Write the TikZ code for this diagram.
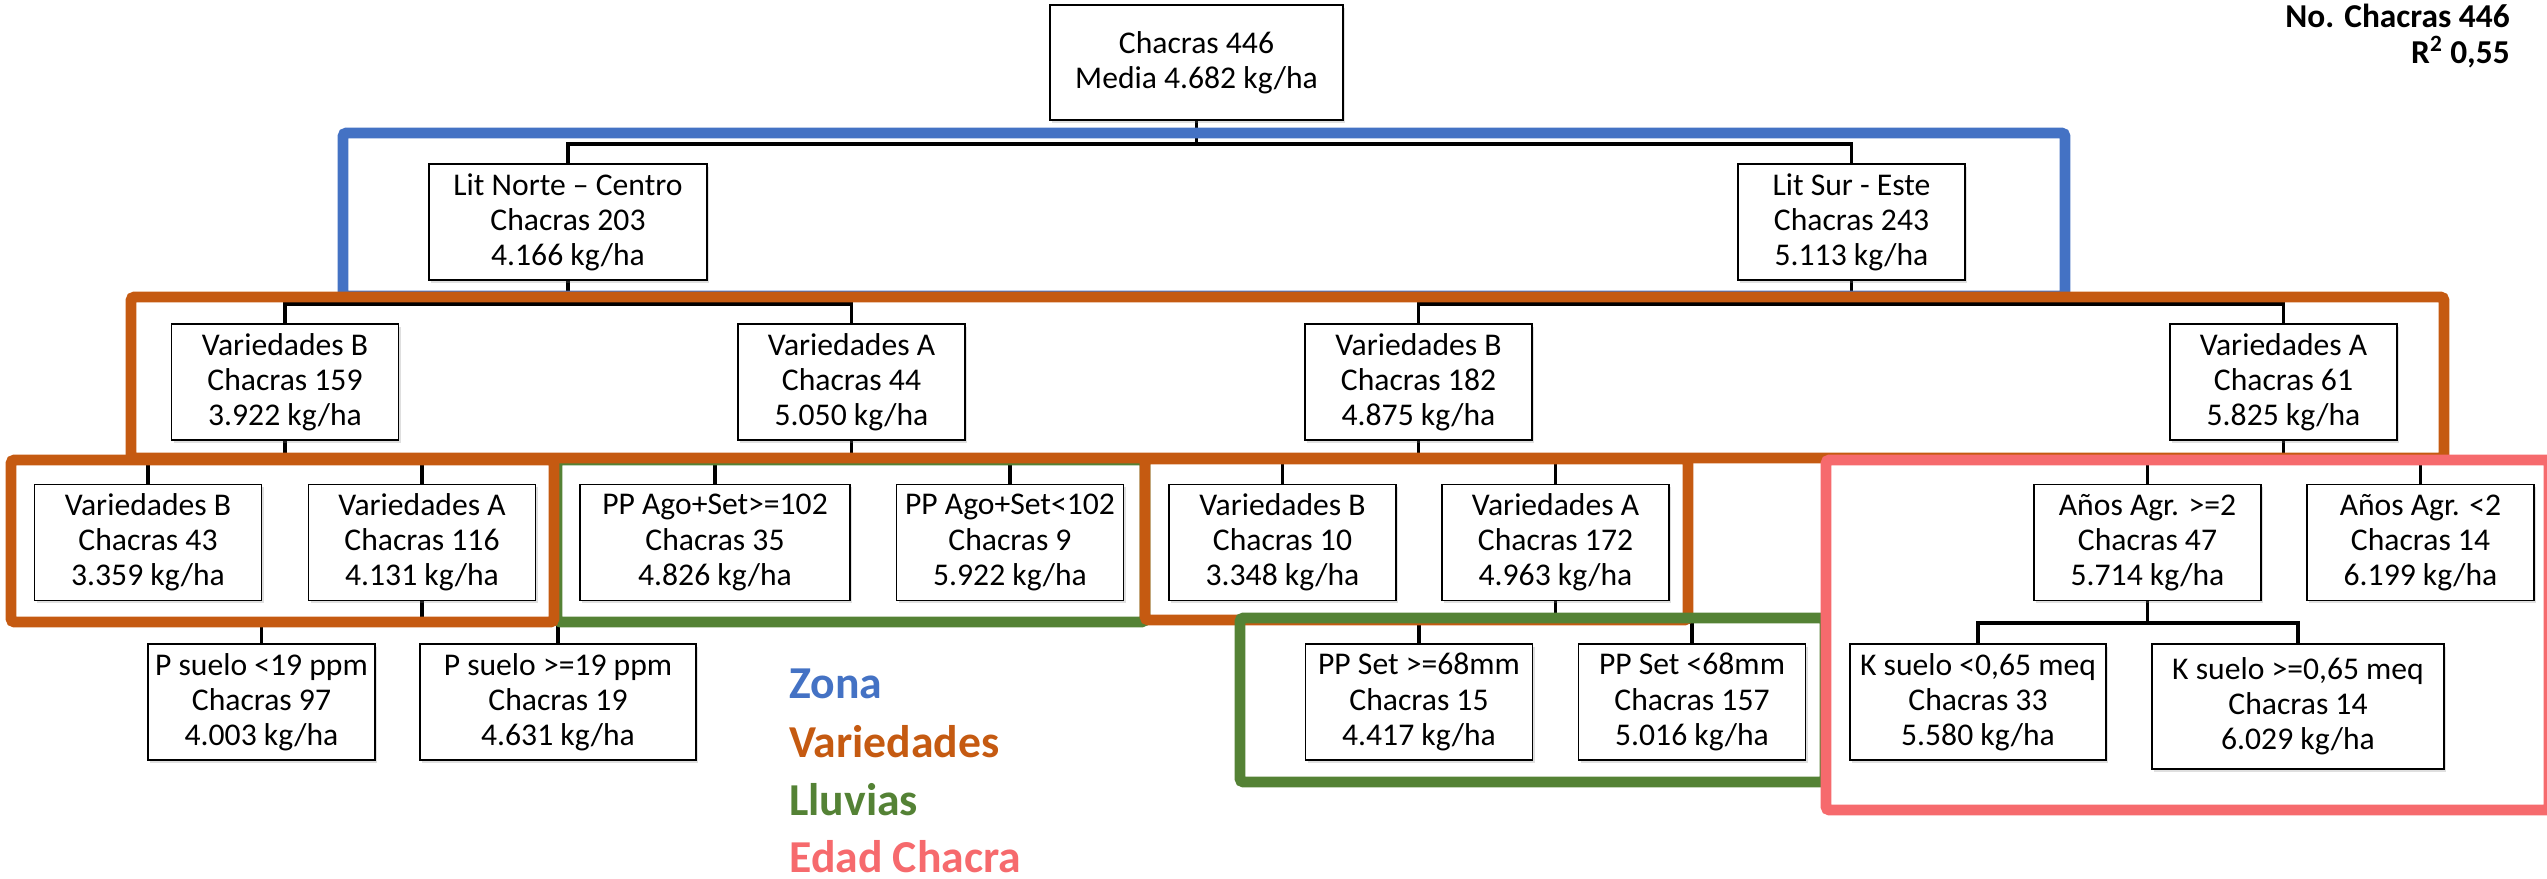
\documentclass[tikz,border=0pt]{standalone}
\usepackage{fontspec}
\setmainfont{Carlito}
\usepackage{xcolor}
\usetikzlibrary{shadows}

\definecolor{zona}{HTML}{4472C4}
\definecolor{varied}{HTML}{C55A11}
\definecolor{lluvia}{HTML}{548235}
\definecolor{edad}{RGB}{246,106,109}

\pgfdeclarelayer{background}
\pgfsetlayers{background,main}

\begin{document}
\begin{tikzpicture}[x=0.02cm, y=-0.02cm,
  box/.style={draw, line width=0.9pt, fill=white, align=center,
    minimum width=4.54cm, minimum height=2.32cm, inner sep=1pt,
    font=\fontsize{18}{20}\selectfont,
    drop shadow={shadow xshift=1.2pt, shadow yshift=-1.5pt, opacity=0.25}},
  conn/.style={line width=2.1pt},
  band/.style={line width=6.2pt, rounded corners=2pt},
  legend/.style={anchor=base west, inner sep=0pt,
    font=\fontsize{26}{30}\bfseries\selectfont},
  stat/.style={anchor=base east, inner sep=0pt,
    font=\fontsize{19}{22}\bfseries\selectfont}]

\useasboundingbox (0,0) rectangle (2547,879);

% arbol
\node[box, minimum width=5.86cm, minimum height=2.3cm] (root) at (1196.5,62.5) {Chacras 446\\Media 4.682 kg/ha};

\node[box, minimum width=5.56cm] (norte) at (568,222) {Lit Norte – Centro\\Chacras 203\\4.166 kg/ha};
\node[box] (sur) at (1851.5,222) {Lit Sur - Este\\Chacras 243\\5.113 kg/ha};

\node[box] (vb159) at (285,382) {Variedades B\\Chacras 159\\3.922 kg/ha};
\node[box] (va44) at (851.5,382) {Variedades A\\Chacras 44\\5.050 kg/ha};
\node[box] (vb182) at (1418.5,382) {Variedades B\\Chacras 182\\4.875 kg/ha};
\node[box] (va61) at (2283.5,382) {Variedades A\\Chacras 61\\5.825 kg/ha};

\node[box] (vb43) at (148,542.5) {Variedades B\\Chacras 43\\3.359 kg/ha};
\node[box] (va116) at (422,542.5) {Variedades A\\Chacras 116\\4.131 kg/ha};
\node[box, minimum width=5.4cm] (ppa1) at (715,542.5) {PP Ago+Set>=102\\Chacras 35\\4.826 kg/ha};
\node[box] (ppa2) at (1010,542.5) {PP Ago+Set<102\\Chacras 9\\5.922 kg/ha};
\node[box] (vb10) at (1282.5,542.5) {Variedades B\\Chacras 10\\3.348 kg/ha};
\node[box] (va172) at (1555.5,542.5) {Variedades A\\Chacras 172\\4.963 kg/ha};
\node[box] (an1) at (2147.5,542.5) {Años Agr. >=2\\Chacras 47\\5.714 kg/ha};
\node[box] (an2) at (2420.5,542.5) {Años Agr. <2\\Chacras 14\\6.199 kg/ha};

\node[box] (ps1) at (261.5,702) {P suelo <19 ppm\\Chacras 97\\4.003 kg/ha};
\node[box, minimum width=5.52cm] (ps2) at (558,702) {P suelo >=19 ppm\\Chacras 19\\4.631 kg/ha};
\node[box] (pps1) at (1419,702) {PP Set >=68mm\\Chacras 15\\4.417 kg/ha};
\node[box] (pps2) at (1692,702) {PP Set <68mm\\Chacras 157\\5.016 kg/ha};
\node[box, minimum width=5.12cm] (ks1) at (1978,702) {K suelo <0,65 meq\\Chacras 33\\5.580 kg/ha};
\node[box, minimum width=5.84cm, minimum height=2.5cm] (ks2) at (2298,706.5) {K suelo >=0,65 meq\\Chacras 14\\6.029 kg/ha};

% leyenda
\node[legend, text=zona] (lzona) at (789,698) {Zona};
\node[legend, text=varied] (lvar) at (789,757) {Variedades};
\node[legend, text=lluvia] (llluv) at (789,815) {Lluvias};
\node[legend, text=edad] (ledad) at (789,872) {Edad Chacra};

\node[stat] (nch) at (2510,28) {No. Chacras 446};
\node[stat] (rsq) at (2510,63) {R\textsuperscript{2} 0,55};

\begin{pgfonlayer}{background}
\draw[conn] (root.south) -- ++(0,23) coordinate (j0) (norte.north) |- (j0) -| (sur.north);
\draw[conn] (norte.south) -- ++(0,23) coordinate (j1) (vb159.north) |- (j1) -| (va44.north);
\draw[conn] (sur.south) -- ++(0,23) coordinate (j2) (vb182.north) |- (j2) -| (va61.north);
\draw[conn] (vb159.south) -- ++(0,19) coordinate (j3) (vb43.north) |- (j3) -| (va116.north);
\draw[conn] (va44.south) -- ++(0,19) coordinate (j4) (ppa1.north) |- (j4) -| (ppa2.north);
\draw[conn] (vb182.south) -- ++(0,19) coordinate (j5) (vb10.north) |- (j5) -| (va172.north);
\draw[conn] (va61.south) -- ++(0,19) coordinate (j6) (an1.north) |- (j6) -| (an2.north);
\draw[conn] (va116.south) -- ++(0,21) coordinate (j7) (ps1.north) |- (j7) -| (ps2.north);
\draw[conn] (va172.south) -- ++(0,21) coordinate (j8) (pps1.north) |- (j8) -| (pps2.north);
\draw[conn] (an1.south) -- ++(0,22) coordinate (j9) (ks1.north) |- (j9) -| (ks2.north);

% marcos de color
\draw[band, zona] (343,133) rectangle (2065,296);
\draw[band, lluvia] (557,460) rectangle (1145,622);
\draw[band, varied] (131,297) rectangle (2444,458);
\draw[band, varied] (11,460) rectangle (554,622);
\draw[band, varied] (1145,459) rectangle (1688,620);
\draw[band, lluvia] (1240,618) rectangle (1825,782);
\draw[band, edad] (1826,460) rectangle (2549,810);
\end{pgfonlayer}

\end{tikzpicture}
\end{document}
